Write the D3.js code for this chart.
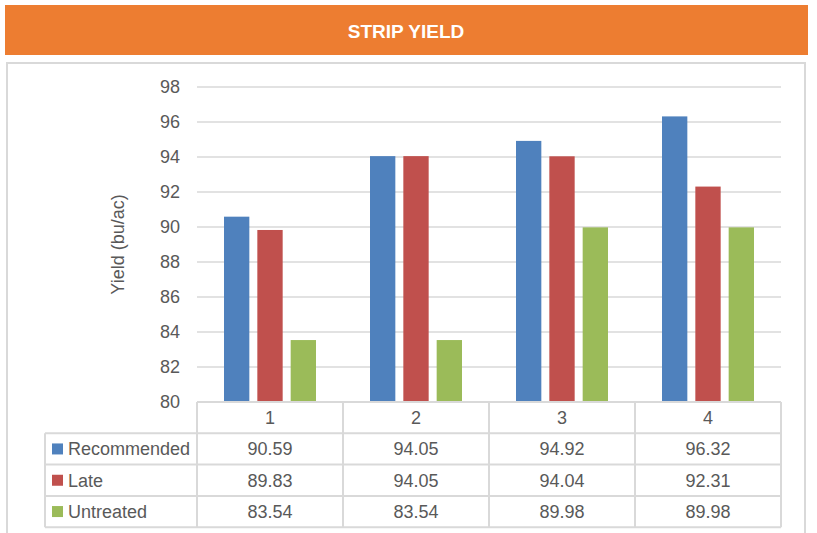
<!DOCTYPE html>
<html>
<head>
<meta charset="utf-8">
<script src="https://cdn.jsdelivr.net/npm/d3@7/dist/d3.min.js"></script>
<style>
  html, body { margin: 0; padding: 0; background: #fff; }
  svg { display: block; font-family: "Liberation Sans", Arial, sans-serif; }
</style>
</head>
<body>
<div class="chartDiv"></div>
<script>
"use strict";

// Data:
var categories = ["1", "2", "3", "4"];
var seriesNames = ["Recommended", "Late", "Untreated"];
var recommended = [90.59, 94.05, 94.92, 96.32];
var late = [89.83, 94.05, 94.04, 92.31];
var untreated = [83.54, 83.54, 89.98, 89.98];
var yTicks = [80, 82, 84, 86, 88, 90, 92, 94, 96, 98];
var seriesColors = ["#4F81BD", "#C0504D", "#9BBB59"];

var seriesValues = [recommended, late, untreated];

// SVG Properties:
var width = 817, height = 533;
var plot = { left: 197, right: 781, top: 87, bottom: 402 };
var rowH = 31.3;
var labelLeft = 45;
var gridColor = "#d9d9d9";
var textColor = "#595959";
var fontSize = 18;

var svg = d3.select(".chartDiv").append("svg")
    .attr("width", width)
    .attr("height", height);

// title band
svg.append("rect")
    .attr("x", 5).attr("y", 5)
    .attr("width", 803).attr("height", 50)
    .attr("fill", "#ED7D31");

svg.append("text")
    .attr("x", 406).attr("y", 38)
    .attr("text-anchor", "middle")
    .attr("fill", "#fff")
    .attr("font-weight", "bold")
    .attr("font-size", 19)
    .text("STRIP YIELD");

// chart frame
svg.append("path")
    .attr("d", "M7,540 V63 H805 V540")
    .attr("fill", "none")
    .attr("stroke", gridColor)
    .attr("stroke-width", 2);

// scales
var y = d3.scaleLinear().domain([80, 98]).range([plot.bottom, plot.top]);

var x0 = d3.scaleBand()
    .domain(categories)
    .range([plot.left, plot.right]);

var x1 = d3.scaleBand()
    .domain(seriesNames)
    .range([27, 119])
    .paddingInner(0.24);

// gridlines
svg.append("g")
    .selectAll("line")
    .data(yTicks.filter(function(d) { return d > 80; }))
    .enter().append("line")
    .attr("x1", plot.left).attr("x2", plot.right)
    .attr("y1", function(d) { return y(d); })
    .attr("y2", function(d) { return y(d); })
    .attr("stroke", gridColor)
    .attr("stroke-width", 1.5);

// y axis labels
var yAxis = d3.axisLeft(y).tickValues(yTicks).tickSize(0).tickPadding(0);
var gAxis = svg.append("g")
    .attr("transform", "translate(180,0)")
    .call(yAxis);
gAxis.select(".domain").remove();
gAxis.selectAll("text")
    .attr("fill", textColor)
    .attr("font-size", fontSize)
    .attr("font-family", "Liberation Sans, Arial, sans-serif");

svg.append("text")
    .attr("transform", "translate(124," + ((plot.top + plot.bottom) / 2) + ") rotate(-90)")
    .attr("text-anchor", "middle")
    .attr("fill", textColor)
    .attr("font-size", fontSize)
    .text("Yield (bu/ac)");

// bars
var groups = svg.append("g")
    .selectAll("g")
    .data(categories)
    .enter().append("g")
    .attr("transform", function(d) { return "translate(" + x0(d) + ",0)"; });

groups.selectAll("rect")
    .data(function(d, i) {
        return seriesNames.map(function(s, j) {
            return { name: s, value: seriesValues[j][i], color: seriesColors[j] };
        });
    })
    .enter().append("rect")
    .attr("x", function(d) { return x1(d.name); })
    .attr("y", function(d) { return y(d.value); })
    .attr("width", x1.bandwidth())
    .attr("height", function(d) { return y(80) - y(d.value); })
    .attr("fill", function(d) { return d.color; });

// data table
var table = svg.append("g");
var tableBottom = plot.bottom + rowH * 4;

// horizontal lines
table.append("line")
    .attr("x1", plot.left).attr("x2", plot.right)
    .attr("y1", plot.bottom).attr("y2", plot.bottom)
    .attr("stroke", gridColor).attr("stroke-width", 2);

[1, 2, 3, 4].forEach(function(r) {
    table.append("line")
        .attr("x1", labelLeft).attr("x2", plot.right)
        .attr("y1", plot.bottom + rowH * r).attr("y2", plot.bottom + rowH * r)
        .attr("stroke", gridColor).attr("stroke-width", 2);
});

// vertical lines
table.append("line")
    .attr("x1", labelLeft).attr("x2", labelLeft)
    .attr("y1", plot.bottom + rowH).attr("y2", tableBottom)
    .attr("stroke", gridColor).attr("stroke-width", 2);

categories.forEach(function(c) {
    table.append("line")
        .attr("x1", x0(c)).attr("x2", x0(c))
        .attr("y1", plot.bottom).attr("y2", tableBottom)
        .attr("stroke", gridColor).attr("stroke-width", 2);
});
table.append("line")
    .attr("x1", plot.right).attr("x2", plot.right)
    .attr("y1", plot.bottom).attr("y2", tableBottom)
    .attr("stroke", gridColor).attr("stroke-width", 2);

// header row (categories)
table.selectAll(".cat")
    .data(categories)
    .enter().append("text")
    .attr("class", "cat")
    .attr("x", function(d) { return x0(d) + x0.bandwidth() / 2; })
    .attr("y", plot.bottom + rowH / 2 + 6.5)
    .attr("text-anchor", "middle")
    .attr("fill", textColor)
    .attr("font-size", fontSize)
    .text(function(d) { return d; });

// series rows
seriesNames.forEach(function(s, j) {
    var rowY = plot.bottom + rowH * (j + 1);

    table.append("rect")
        .attr("x", 52).attr("y", rowY + rowH / 2 - 5.5)
        .attr("width", 11).attr("height", 11)
        .attr("fill", seriesColors[j]);

    table.append("text")
        .attr("x", 68).attr("y", rowY + rowH / 2 + 6.5)
        .attr("fill", textColor)
        .attr("font-size", fontSize)
        .attr("textLength", j === 0 ? 122 : null)
        .text(s);

    table.selectAll(".val" + j)
        .data(seriesValues[j])
        .enter().append("text")
        .attr("x", function(d, i) { return x0(categories[i]) + x0.bandwidth() / 2; })
        .attr("y", rowY + rowH / 2 + 6.5)
        .attr("text-anchor", "middle")
        .attr("fill", textColor)
        .attr("font-size", fontSize)
        .text(function(d) { return d.toFixed(2); });
});
</script>
</body>
</html>
